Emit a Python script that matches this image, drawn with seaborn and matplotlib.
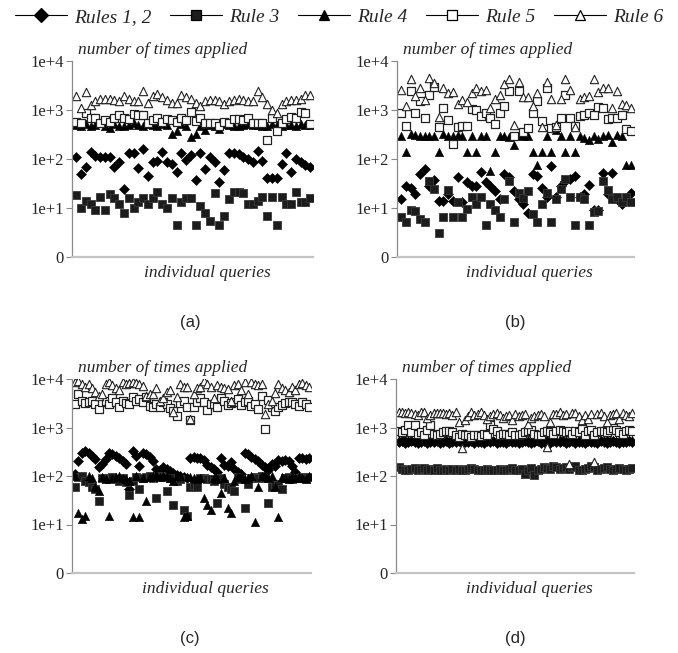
import numpy as np
import matplotlib
matplotlib.use("Agg")
import matplotlib.pyplot as plt
from matplotlib.lines import Line2D
from matplotlib.ticker import NullLocator
from matplotlib.font_manager import FontProperties
import seaborn as sns

# ---------------- data (counts) ----------------
series_names = ["Rules 1, 2", "Rule 3", "Rule 4", "Rule 5", "Rule 6"]
ytick_vals = [1, 10, 100, 1000, 10000]
ytick_labels = ["0", "1e+1", "1e+2", "1e+3", "1e+4"]
panel_captions = ["(a)", "(b)", "(c)", "(d)"]

# panel (a)
rules12_a = [112, 49, 70, 140, 117, 108, 108, 112, 70, 86, 25, 130, 130, 66, 158, 44, 86, 92, 140, 86,
             79, 54, 130, 95, 120, 37, 135, 63, 108, 86, 34, 60, 130, 135, 126, 112, 100, 86, 147, 92,
             40, 40, 40, 79, 135, 54, 100, 86, 75, 68]
rule3_a = [18, 10, 14, 12, 9, 17, 9, 19, 16, 12, 8, 16, 10, 13, 16, 12, 16, 21, 12, 10,
           16, 4.5, 13, 16, 16, 4.5, 11, 8, 5.4, 20, 4.5, 7, 15, 21, 21, 20, 12, 12, 14, 17,
           7, 17, 4.5, 17, 12, 12, 21, 13, 13, 16]
rule4_a = [500, 470, 520, 480, 500, 540, 470, 430, 510, 480, 470, 500, 540, 490, 470, 510, 500, 480, 520, 490,
           320, 370, 520, 480, 280, 320, 470, 390, 490, 480, 400, 520, 500, 480, 470, 500, 530, 490, 500, 470,
           480, 520, 500, 470, 490, 500, 480, 510, 500, 490]
rule5_a = [560, 540, 850, 680, 700, 540, 620, 560, 680, 800, 680, 650, 830, 800, 780, 540, 620, 700, 580, 650,
           620, 560, 700, 620, 930, 600, 680, 540, 540, 540, 480, 560, 540, 650, 650, 630, 680, 540, 540, 540,
           250, 680, 370, 540, 650, 720, 680, 930, 880, 530]
rule6_a = [1900, 1100, 2300, 1250, 1500, 1700, 1700, 1700, 1600, 1500, 1900, 1700, 1500, 1500, 2500, 1400, 1900, 2100, 1800, 1600,
           1400, 1400, 2000, 1800, 1700, 1400, 1200, 1500, 1600, 1600, 1500, 1300, 1500, 1600, 1700, 1600, 1500, 1500, 2500, 1800,
           1300, 1000, 850, 1300, 1500, 1600, 1600, 1700, 2000, 2000]

# panel (b)
rules12_b = [15, 28, 26, 19, 49, 62, 28, 37, 14, 14, 19, 14, 42, 13, 34, 28, 28, 55, 34, 28,
             22, 15, 49, 42, 22, 15, 12, 7.9, 49, 45, 26, 17, 73, 17, 28, 36, 39, 45, 17, 19,
             29, 9, 9.3, 53, 19, 53, 15, 12, 15, 20]
rule3_b = [6.4, 5.3, 9, 8.5, 6, 5.3, 36, 24, 3.1, 6.4, 23, 6.4, 13, 6.4, 9.5, 17, 12, 17, 4.4, 12,
           9, 6.7, 15, 36, 5.3, 20, 16, 22, 7.5, 5.3, 12, 20, 5.3, 15, 24, 39, 17, 4.4, 17, 15,
           4.4, 8.1, 8.5, 36, 23, 15, 17, 13, 17, 13]
rule4_b = [300, 138, 320, 310, 300, 290, 300, 300, 138, 320, 300, 290, 310, 300, 138, 300, 138, 290, 300, 57,
           138, 300, 290, 280, 190, 310, 300, 290, 138, 75, 138, 300, 138, 390, 300, 138, 290, 138, 300, 270,
           250, 290, 260, 300, 310, 220, 310, 300, 75, 75]
rule5_b = [850, 480, 2400, 870, 1500, 700, 2000, 3000, 450, 1100, 630, 200, 450, 470, 480, 1050, 1000, 760, 870, 680,
           530, 870, 1200, 2500, 290, 2450, 360, 420, 850, 1550, 600, 2800, 430, 450, 680, 2050, 700, 480, 760, 800,
           850, 800, 1150, 1100, 660, 680, 680, 780, 400, 380]
rule6_b = [2600, 1200, 4200, 1900, 2800, 1600, 4500, 3600, 730, 2800, 2200, 2300, 1300, 1600, 1450, 2200, 2800, 2400, 2600, 1100,
           1700, 2000, 3400, 4200, 490, 3800, 1800, 1800, 1200, 2200, 460, 3800, 1700, 490, 1700, 4200, 2600, 460, 1700, 1800,
           1900, 4200, 2300, 2800, 2800, 1100, 2400, 1300, 1250, 1100]

# panel (c)
rules12_c = [108, 204, 300, 330, 300, 260, 220, 150, 180, 220, 300, 290, 260, 230, 200, 180, 53, 330, 260, 160,
             300, 280, 250, 200, 140, 130, 150, 140, 125, 115, 105, 100, 95, 90, 230, 250, 240, 230, 210, 170,
             150, 140, 120, 230, 170, 160, 190, 140, 120, 110, 300, 280, 250, 220, 200, 170, 150, 130, 180, 160,
             210, 200, 210, 200, 160, 120, 230, 230, 220, 230]
rule3_c = [60, 95, 100, 80, 75, 60, 55, 30, 90, 90, 85, 95, 85, 80, 90, 75, 40, 80, 95, 55,
           90, 95, 100, 90, 35, 100, 95, 50, 90, 25, 80, 85, 20, 15, 60, 65, 60, 90, 90, 85,
           85, 80, 28, 90, 70, 60, 55, 50, 95, 85, 22, 70, 90, 95, 90, 100, 90, 28, 60, 70,
           65, 55, 90, 95, 85, 90, 90, 95, 90, 95]
rule4_c = [100, 17, 13, 15, 100, 90, 60, 50, 95, 85, 15, 90, 95, 100, 90, 85, 80, 14, 100, 14,
           90, 30, 95, 100, 105, 95, 100, 100, 90, 80, 100, 100, 14, 15, 95, 90, 85, 90, 35, 25,
           20, 90, 85, 45, 90, 22, 17, 80, 95, 100, 85, 90, 100, 11, 60, 100, 105, 90, 100, 60,
           14, 95, 90, 85, 100, 90, 95, 90, 85, 100]
rule5_c = [3100, 4900, 3500, 3200, 3300, 3600, 3100, 2400, 3400, 3600, 3000, 4000, 3300, 2700, 3600, 3200, 3000, 4200, 3600, 3800,
           3300, 4200, 2800, 2600, 3000, 2700, 3400, 3000, 2500, 2200, 1700, 3200, 3500, 2600, 1400, 2700, 3400, 4000, 3300, 2300,
           3100, 3000, 2700, 4000, 3600, 2900, 3200, 3300, 3800, 2900, 3400, 3600, 2800, 3100, 2400, 4400, 930, 3700, 2600, 2200,
           2700, 2900, 3200, 3300, 3400, 3000, 2800, 3300, 3100, 2700]
rule6_c = [8500, 9300, 7800, 7000, 8000, 6500, 5500, 4500, 5000, 7800, 8500, 7500, 6500, 5800, 8500, 8000, 8200, 8800, 8300, 7800,
           7200, 4500, 5000, 4800, 6500, 3600, 4000, 5500, 6000, 2050, 4200, 7800, 7000, 6800, 1500, 5000, 6500, 7000, 9000, 7800,
           6800, 4000, 7500, 7000, 6500, 6200, 3600, 7500, 8000, 6000, 8500, 5000, 8500, 8000, 7500, 7800, 1900, 3000, 3500, 5200,
           7800, 6500, 6000, 5500, 7000, 5800, 8000, 8300, 7600, 6800]

# panel (d)
rules12_d = [500, 520, 490, 510, 530, 500, 480, 510, 520, 490, 510, 500, 530, 490, 500, 520, 480, 510, 500, 530,
             490, 510, 500, 520, 480, 500, 510, 490, 530, 500, 520, 490, 510, 500, 480, 520, 500, 510, 490, 500,
             530, 500, 490, 510, 520, 480, 500, 510, 490, 520, 500, 510, 530, 490, 500, 520, 480, 510, 500, 490,
             520, 500, 510, 490, 530, 500, 480, 510, 520, 500, 490, 510, 500, 520, 500]
rule3_d = [150, 140, 135, 130, 140, 145, 135, 140, 145, 130, 140, 135, 145, 130, 135, 140, 130, 140, 135, 140,
           135, 130, 140, 145, 140, 135, 130, 135, 140, 135, 130, 135, 140, 135, 130, 140, 145, 135, 130, 140,
           110, 135, 145, 105, 130, 140, 150, 145, 140, 160, 150, 140, 145, 155, 140, 150, 160, 135, 130, 140,
           145, 160, 150, 135, 140, 145, 150, 140, 135, 140, 145, 140, 135, 140, 145]
rule4_d = [560, 540, 580, 550, 530, 570, 560, 540, 520, 580, 550, 540, 570, 560, 530, 550, 560, 580, 540, 520,
           550, 570, 560, 540, 550, 530, 560, 580, 550, 540, 520, 560, 570, 550, 540, 560, 530, 550, 580, 560,
           540, 550, 570, 560, 530, 550, 540, 580, 560, 550, 540, 570, 550, 560, 530, 540, 560, 580, 550, 540,
           560, 570, 530, 550, 560, 540, 580, 550, 560, 530, 550, 570, 560, 540, 550]
rule5_d = [850, 800, 900, 1100, 800, 1150, 750, 800, 700, 900, 1100, 750, 700, 750, 800, 850, 850, 800, 700, 650,
           750, 700, 700, 650, 700, 700, 680, 720, 700, 1150, 950, 850, 700, 750, 720, 700, 800, 700, 700, 750,
           800, 850, 900, 750, 700, 700, 800, 850, 800, 720, 850, 900, 850, 800, 850, 750, 850, 800, 950, 700,
           850, 900, 700, 800, 850, 850, 800, 900, 1000, 900, 800, 750, 850, 900, 850]
rule6_d = [2100, 2100, 2000, 2100, 2000, 1900, 1800, 2100, 2100, 1600, 1800, 1950, 2000, 2000, 1950, 1900, 2000, 1800, 2100, 1300,
           370, 1400, 1700, 2100, 1800, 1900, 2100, 1800, 1500, 1700, 1900, 2000, 1800, 1600, 1700, 1800, 1400, 1900, 1700, 1800,
           1900, 1200, 1600, 1700, 1800, 1900, 1700, 400, 1300, 1900, 1900, 2100, 1800, 1900, 180, 2000, 2000, 1700, 1400, 1800,
           1500, 1900, 190, 1900, 2000, 1700, 1300, 1800, 1900, 2000, 1500, 2000, 1800, 1700, 2000]

panel_data = [
    [rules12_a, rule3_a, rule4_a, rule5_a, rule6_a],
    [rules12_b, rule3_b, rule4_b, rule5_b, rule6_b],
    [rules12_c, rule3_c, rule4_c, rule5_c, rule6_c],
    [rules12_d, rule3_d, rule4_d, rule5_d, rule6_d],
]

# ---------------- style ----------------
sns.set_style("white")
plt.rcParams["font.family"] = ["Liberation Serif", "DejaVu Serif"]

styles = [
    dict(marker="D", s=26, color="black", edgecolor="black", linewidth=0.4),
    dict(marker="s", s=30, color="#1c1c1c", edgecolor="#3a3a3a", linewidth=0.6),
    dict(marker="^", s=36, color="black", edgecolor="black", linewidth=0.4),
    dict(marker="s", s=30, color="white", edgecolor="#222222", linewidth=0.9),
    dict(marker="^", s=36, color="white", edgecolor="#222222", linewidth=0.8),
]

W, H = 678, 653
fig = plt.figure(figsize=(W / 100, H / 100), dpi=100)

# axes boxes in pixels: left, right, top(1e+4), bottom(0)
boxes = [(72, 313, 61, 257), (397, 634, 61, 257), (72, 311, 379, 573), (396, 634, 379, 573)]
caption_pos = [(190, 323), (515, 323), (190, 639), (515, 639)]

serif_it = FontProperties(family="Liberation Serif", style="italic", size=12.5)

for data, (l, r, t, b), cap, (cx, cy) in zip(panel_data, boxes, panel_captions, caption_pos):
    ax = fig.add_axes([l / W, 1 - b / H, (r - l) / W, (b - t) / H])
    n = len(data[1])
    x = np.arange(n)
    for vals, st in zip(data, styles):
        sns.scatterplot(x=x, y=vals, ax=ax, legend=False, **st)
    ax.set_yscale("log")
    ax.set_ylim(1, 10000)
    ax.set_xlim(-0.9, n - 0.4)
    ax.set_yticks(ytick_vals)
    ax.set_yticklabels(ytick_labels)
    ax.yaxis.set_minor_locator(NullLocator())
    ax.set_xticks([])
    ax.set_xlabel("")
    ax.set_ylabel("")
    ax.tick_params(axis="y", left=True, direction="out", length=4, width=0.8,
                   color="#888888", labelsize=12, pad=2)
    for sp in ["top", "right"]:
        ax.spines[sp].set_visible(False)
    ax.spines["left"].set_color("#8a8a8a")
    ax.spines["left"].set_linewidth(0.9)
    ax.spines["bottom"].set_color("#c4c4c4")
    ax.spines["bottom"].set_linewidth(1.6)
    ah = b - t
    ax.text(0.025, 1 + 11 / ah, "number of times applied", transform=ax.transAxes,
            ha="left", va="center", fontproperties=serif_it)
    ax.text(0.56, -16 / ah, "individual queries", transform=ax.transAxes,
            ha="center", va="center", fontproperties=serif_it)
    fig.text(cx / W, 1 - cy / H, cap, ha="center", va="center",
             family="Liberation Sans", fontsize=12)

handles = []
for st in styles:
    handles.append(Line2D([0], [0], color="black", lw=0.8, marker=st["marker"],
                          markersize=7.5, markerfacecolor=st["color"],
                          markeredgecolor="black", markeredgewidth=0.9))
fig.legend(handles, series_names, loc="center", bbox_to_anchor=(0.5, 1 - 17 / H),
           ncol=5, frameon=False, handlelength=2.7, handletextpad=0.35, columnspacing=0.95,
           prop=FontProperties(family="Liberation Serif", style="italic", size=14))

fig.savefig("out.png", dpi=100)
